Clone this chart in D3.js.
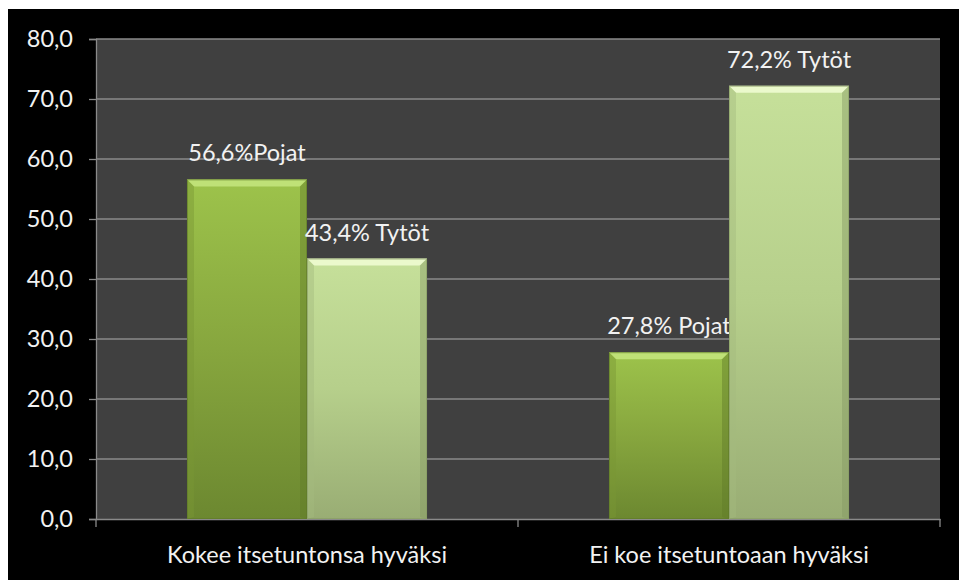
<!DOCTYPE html>
<html>
<head>
<meta charset="utf-8">
<script src="https://cdn.jsdelivr.net/npm/d3@7"></script>
<style>
html,body{margin:0;padding:0;background:#fff;}
svg{display:block;}
text{font-family:Lato,"Open Sans",sans-serif;}
</style>
</head>
<body>
<svg id="chart" width="959" height="580"></svg>
<script>
const categories = ["Kokee itsetuntonsa hyväksi", "Ei koe itsetuntoaan hyväksi"];
const seriesNames = ["Pojat", "Tytöt"];
const pojatValues = [56.6, 27.8];
const tytotValues = [43.4, 72.2];
const barLabels = [["56,6%Pojat", "43,4% Tytöt"], ["27,8% Pojat", "72,2% Tytöt"]];
const yTicks = [0, 10, 20, 30, 40, 50, 60, 70, 80];

const W = 959, H = 580;
const plot = {left: 96, right: 940, top: 39, bottom: 519};
const svg = d3.select("#chart");

svg.append("rect").attr("x", 8).attr("y", 9).attr("width", W - 8).attr("height", H - 9).attr("fill", "#000");
svg.append("rect").attr("x", plot.left).attr("y", plot.top)
  .attr("width", plot.right - plot.left).attr("height", plot.bottom - plot.top).attr("fill", "#404040");

const y = d3.scaleLinear().domain([0, 80]).range([plot.bottom, plot.top]);
const x0 = d3.scaleBand().domain(categories).range([plot.left, plot.right]).padding(0);
const x1 = d3.scaleBand().domain(seriesNames).range([0, x0.bandwidth()]).paddingInner(0).paddingOuter(0.758);

const fmt = d => d3.format(".1f")(d).replace(".", ",");
const fontSize = "23.5px";

// gridlines
svg.append("g").selectAll("line").data(yTicks.filter(t => t > 0)).join("line")
  .attr("x1", plot.left).attr("x2", plot.right)
  .attr("y1", d => y(d)).attr("y2", d => y(d))
  .attr("stroke", "#8a8a8a").attr("stroke-width", 1.3);

// y axis
const yAxis = svg.append("g").attr("transform", `translate(${plot.left},0)`)
  .call(d3.axisLeft(y).tickValues(yTicks).tickFormat(fmt).tickSize(7).tickPadding(16));
yAxis.select(".domain").attr("stroke", "#8a8a8a").attr("stroke-width", 1.3);
yAxis.selectAll(".tick line").attr("stroke", "#8a8a8a").attr("stroke-width", 1.3);
yAxis.selectAll(".tick text").attr("fill", "#f2f2f2").style("font-size", fontSize).style("font-family", "Lato, sans-serif");

// x axis
const xAxis = svg.append("g").attr("transform", `translate(0,${plot.bottom})`)
  .call(d3.axisBottom(x0).tickSize(0).tickPadding(27));
xAxis.select(".domain").attr("stroke", "#8a8a8a").attr("stroke-width", 1.3);
xAxis.selectAll(".tick text").attr("fill", "#f2f2f2").style("font-size", fontSize).style("font-family", "Lato, sans-serif");
const boundaries = [plot.left, ...categories.map(c => x0(c) + x0.bandwidth())];
svg.append("g").selectAll("line").data(boundaries).join("line")
  .attr("x1", d => d).attr("x2", d => d).attr("y1", plot.bottom).attr("y2", plot.bottom + 8)
  .attr("stroke", "#8a8a8a").attr("stroke-width", 1.3);

// gradients
const defs = svg.append("defs");
const palettes = {
  "Pojat": {top: "#9dc34b", mid: "#87a63e", bot: "#6c8830", light: "#c8e882", side: "#7a9636", dark: "#5f7a28"},
  "Tytöt": {top: "#c6e09a", mid: "#b6cf8b", bot: "#99ad74", light: "#f4ffd8", side: "#a4bb7f", dark: "#869a63"}
};
seriesNames.forEach((s, i) => {
  const p = palettes[s];
  const g = defs.append("linearGradient").attr("id", "grad" + i).attr("x1", 0).attr("y1", 0).attr("x2", 0).attr("y2", 1);
  g.append("stop").attr("offset", "0%").attr("stop-color", p.top);
  g.append("stop").attr("offset", "50%").attr("stop-color", p.mid);
  g.append("stop").attr("offset", "100%").attr("stop-color", p.bot);
});

const data = [];
categories.forEach((c, ci) => {
  data.push({cat: c, s: "Pojat", si: 0, v: pojatValues[ci], label: barLabels[ci][0]});
  data.push({cat: c, s: "Tytöt", si: 1, v: tytotValues[ci], label: barLabels[ci][1]});
});

const bev = 7;
const bars = svg.append("g").selectAll("g").data(data).join("g");
bars.each(function(d) {
  const g = d3.select(this);
  const p = palettes[d.s];
  const bx = x0(d.cat) + x1(d.s), bw = x1.bandwidth();
  const by = y(d.v), bh = y(0) - y(d.v);
  g.append("rect").attr("x", bx).attr("y", by).attr("width", bw).attr("height", bh)
    .attr("fill", `url(#grad${d.si})`);
  g.append("path").attr("d", `M${bx},${by}L${bx + bw},${by}L${bx + bw - bev},${by + bev}L${bx + bev},${by + bev}Z`)
    .attr("fill", p.light).attr("opacity", 0.8);
  g.append("path").attr("d", `M${bx},${by}L${bx + bev},${by + bev}L${bx + bev},${by + bh - 2}L${bx},${by + bh}Z`)
    .attr("fill", p.side).attr("opacity", 0.45);
  g.append("path").attr("d", `M${bx + bw},${by}L${bx + bw - bev},${by + bev}L${bx + bw - bev},${by + bh - 2}L${bx + bw},${by + bh}Z`)
    .attr("fill", p.dark).attr("opacity", 0.45);
  g.append("rect").attr("x", bx + 0.5).attr("y", by + 0.5).attr("width", bw - 1).attr("height", bh - 1)
    .attr("fill", "none").attr("stroke", p.dark).attr("stroke-opacity", 0.6).attr("stroke-width", 1);
  g.append("text").attr("x", bx + bw / 2).attr("y", by - 18)
    .attr("text-anchor", "middle").attr("fill", "#f2f2f2")
    .style("font-size", fontSize).text(d.label);
});
</script>
</body>
</html>
